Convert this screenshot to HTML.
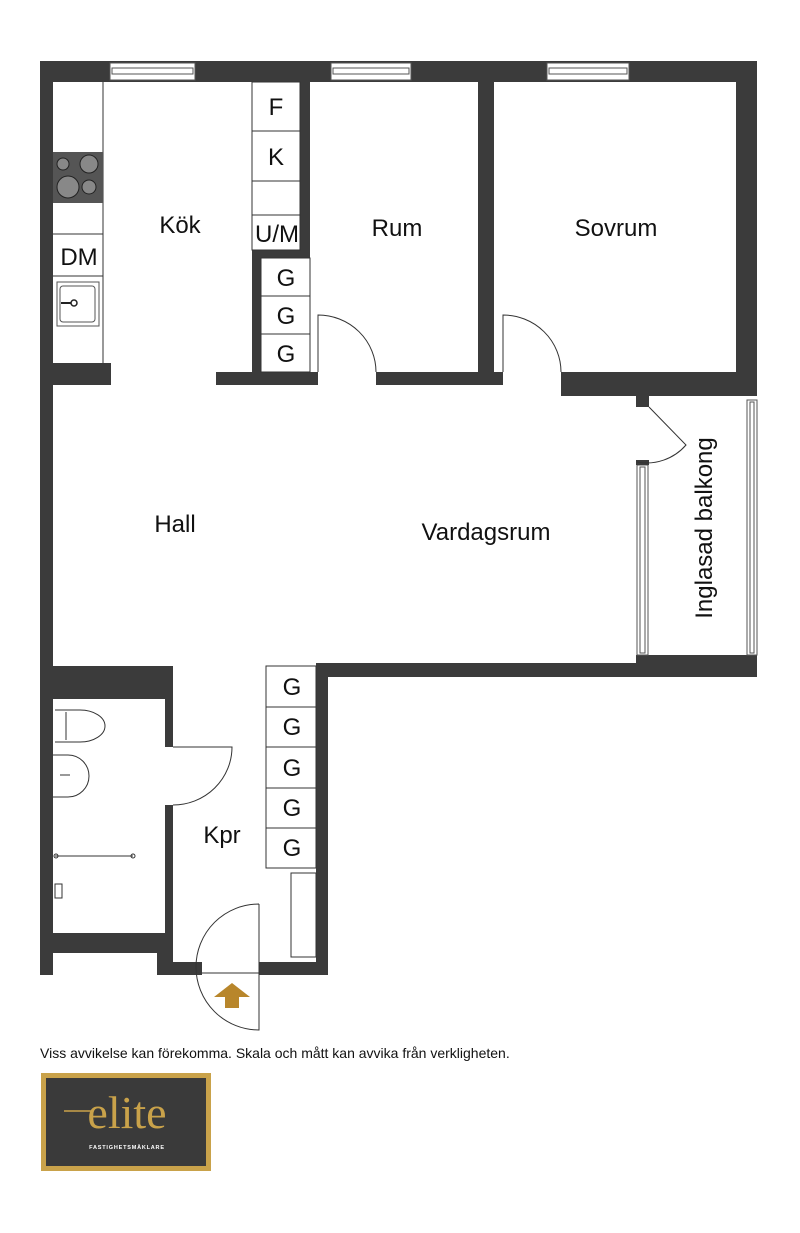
<!DOCTYPE html>
<html><head><meta charset="utf-8"><style>
body{margin:0;background:#fff;width:800px;height:1233px;overflow:hidden}
svg{display:block}
text{font-family:"Liberation Sans",Arial,sans-serif;fill:#111}
</style></head><body>
<svg width="800" height="1233" viewBox="0 0 800 1233" xmlns="http://www.w3.org/2000/svg">
<g fill="#3b3b3b">
<rect x="40" y="61" width="717" height="21"/>
<rect x="40" y="61" width="13" height="914"/>
<rect x="736" y="61" width="21" height="335"/>
<rect x="561" y="372" width="196" height="24"/>
<rect x="636" y="385" width="13" height="22"/>
<rect x="40" y="363" width="71" height="22"/>
<rect x="300" y="82" width="10" height="176"/>
<rect x="252" y="250" width="58" height="8"/>
<rect x="252" y="250" width="9" height="135"/>
<rect x="216" y="372" width="102" height="13"/>
<rect x="376" y="372" width="127" height="13"/>
<rect x="478" y="82" width="16" height="303"/>
<rect x="636" y="655" width="121" height="22"/>
<rect x="316" y="663" width="333" height="14"/>
<rect x="316" y="663" width="12" height="312"/>
<rect x="40" y="666" width="133" height="33"/>
<rect x="165" y="666" width="8" height="81"/>
<rect x="165" y="805" width="8" height="148"/>
<rect x="53" y="933" width="120" height="20"/>
<rect x="157" y="933" width="16" height="42"/>
<rect x="157" y="962" width="45" height="13"/>
<rect x="259" y="962" width="69" height="13"/>
</g>
<g fill="#fff" stroke="#555" stroke-width="1">
<rect x="110" y="63" width="85" height="17"/><rect x="112" y="68" width="81" height="6"/>
<rect x="331" y="63" width="80" height="17"/><rect x="333" y="68" width="76" height="6"/>
<rect x="547" y="63" width="82" height="17"/><rect x="549" y="68" width="78" height="6"/>
<rect x="747" y="400" width="10" height="255"/><rect x="750" y="402" width="4" height="251"/>
<rect x="637" y="465" width="11" height="190"/><rect x="640" y="467" width="5" height="186"/>
</g>
<rect x="636" y="460" width="13" height="5" fill="#3b3b3b"/>
<g fill="none" stroke="#333" stroke-width="1">
<line x1="103" y1="82" x2="103" y2="363"/>
<line x1="53" y1="234" x2="103" y2="234"/>
<line x1="53" y1="276" x2="103" y2="276"/>
<rect x="57" y="282" width="42" height="44" stroke="#555"/>
<rect x="60" y="286" width="35" height="36" rx="3" stroke="#555"/>
<rect x="252" y="82" width="48" height="168"/>
<line x1="252" y1="131" x2="300" y2="131"/>
<line x1="252" y1="181" x2="300" y2="181"/>
<line x1="252" y1="215" x2="300" y2="215"/>
<rect x="261" y="258" width="49" height="114"/>
<line x1="261" y1="296" x2="310" y2="296"/>
<line x1="261" y1="334" x2="310" y2="334"/>
<path d="M318 372 V315 A58 57 0 0 1 376 372"/>
<path d="M503 372 V315 A58 57 0 0 1 561 372"/>
<path d="M649 407 L686 445 A52 52 0 0 1 637 462"/>
<path d="M173 747 H232 A59 58 0 0 1 173 805"/>
<path d="M259 904 V1030 A63 63 0 0 1 259 904"/>
<line x1="202" y1="973" x2="259" y2="973"/>
<rect x="266" y="666" width="50" height="202"/>
<line x1="266" y1="707" x2="316" y2="707"/>
<line x1="266" y1="747" x2="316" y2="747"/>
<line x1="266" y1="788" x2="316" y2="788"/>
<line x1="266" y1="828" x2="316" y2="828"/>
<rect x="291" y="873" width="25" height="84"/>
<path d="M55 710 H80 A25 16 0 0 1 80 742 H55" />
<line x1="66" y1="712" x2="66" y2="740"/>
<path d="M53 755 H68 A21 21 0 0 1 68 797 H53"/>
<path d="M60 775 H70"/>
<line x1="55" y1="856" x2="133" y2="856"/>
<circle cx="56" cy="856" r="2"/><circle cx="133" cy="856" r="2"/>
<rect x="55" y="884" width="7" height="14"/>
</g>
<rect x="53" y="152" width="50" height="51" fill="#555"/>
<g fill="#888" stroke="#222" stroke-width="1">
<circle cx="63" cy="164" r="6"/><circle cx="89" cy="164" r="9"/>
<circle cx="68" cy="187" r="11"/><circle cx="89" cy="187" r="7"/>
</g>
<circle cx="74" cy="303" r="3" fill="none" stroke="#222" stroke-width="1.5"/>
<line x1="61" y1="303" x2="71" y2="303" stroke="#222" stroke-width="2"/>
<path d="M232 983 L250 997 H239 V1008 H225 V997 H214 Z" fill="#b8862b"/>
<g font-size="24" text-anchor="middle">
<text x="180" y="233">Kök</text>
<text x="79" y="265">DM</text>
<text x="276" y="115">F</text>
<text x="276" y="165">K</text>
<text x="277" y="242">U/M</text>
<text x="286" y="286">G</text><text x="286" y="324">G</text><text x="286" y="362">G</text>
<text x="397" y="236">Rum</text>
<text x="616" y="236">Sovrum</text>
<text x="175" y="532">Hall</text>
<text x="486" y="540">Vardagsrum</text>
<text x="222" y="843">Kpr</text>
<text x="292" y="695">G</text><text x="292" y="735">G</text><text x="292" y="776">G</text><text x="292" y="816">G</text><text x="292" y="856">G</text>
<text transform="translate(712,528) rotate(-90)">Inglasad balkong</text>
</g>
<text x="40" y="1058" font-size="14">Viss avvikelse kan förekomma. Skala och mått kan avvika från verkligheten.</text>
<rect x="41" y="1073" width="170" height="98" fill="#c9a24a"/>
<rect x="46" y="1078" width="160" height="88" fill="#3a3a3a"/>
<text x="127" y="1128" font-size="46" text-anchor="middle" style="font-family:'Liberation Serif',serif;fill:#c9a24a">elite</text>
<line x1="64" y1="1111" x2="92" y2="1111" stroke="#c9a24a" stroke-width="1.5"/>
<text x="127" y="1149" font-size="5.5" text-anchor="middle" font-weight="bold" letter-spacing="0.8" style="fill:#fff">FASTIGHETSMÄKLARE</text>
</svg>
</body></html>
